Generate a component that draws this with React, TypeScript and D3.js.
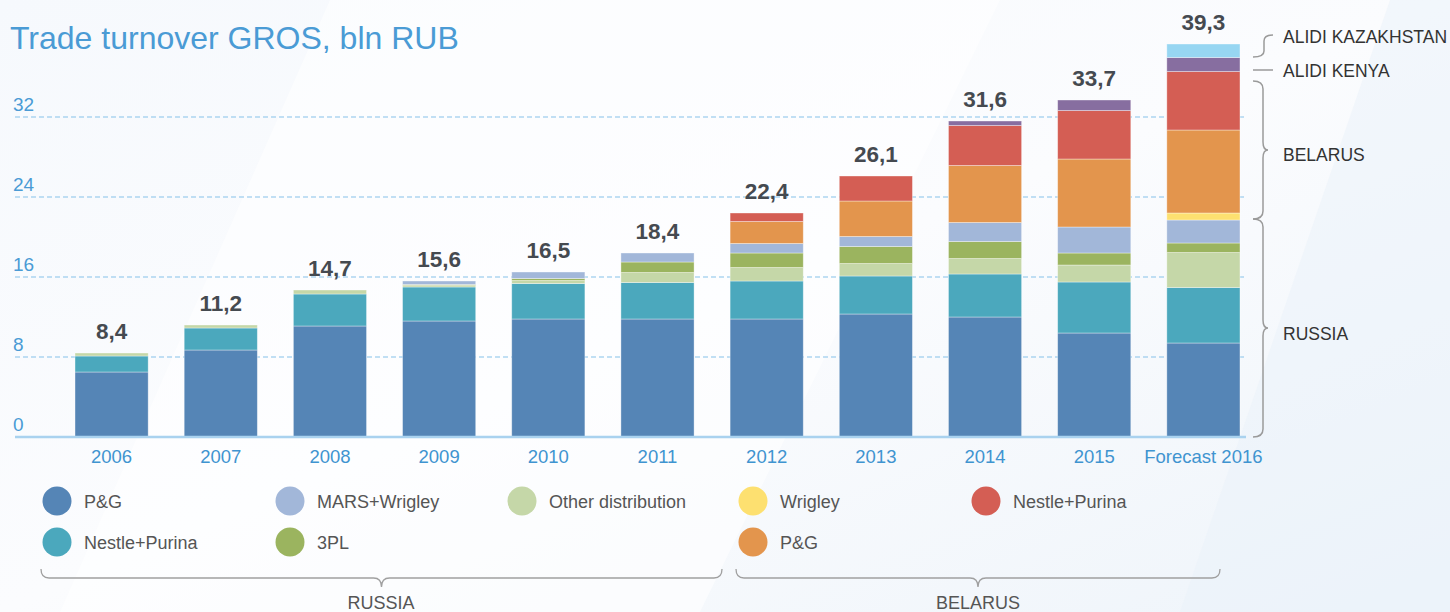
import React from "react";
import * as d3 from "d3";

const years = ["2006", "2007", "2008", "2009", "2010", "2011", "2012", "2013", "2014", "2015", "Forecast 2016"];
const totals = [8.4, 11.2, 14.7, 15.6, 16.5, 18.4, 22.4, 26.1, 31.6, 33.7, 39.3];

const pgRussia = [6.5, 8.7, 11.1, 11.6, 11.8, 11.8, 11.8, 12.3, 12.0, 10.4, 9.4];
const nestleRussia = [1.6, 2.2, 3.2, 3.4, 3.55, 3.65, 3.8, 3.8, 4.3, 5.1, 5.55];
const otherDistribution = [0.3, 0.3, 0.4, 0.15, 0.3, 1.0, 1.35, 1.25, 1.55, 1.7, 3.5];
const threePL = [0, 0, 0, 0.1, 0.2, 1.05, 1.45, 1.7, 1.7, 1.2, 0.95];
const marsWrigley = [0, 0, 0, 0.35, 0.65, 0.9, 0.95, 1.0, 1.9, 2.6, 2.3];
const wrigleyBelarus = [0, 0, 0, 0, 0, 0, 0, 0, 0, 0, 0.7];
const pgBelarus = [0, 0, 0, 0, 0, 0, 2.2, 3.55, 5.7, 6.8, 8.3];
const nestleBelarus = [0, 0, 0, 0, 0, 0, 0.85, 2.5, 4.0, 4.85, 5.85];
const alidiKenya = [0, 0, 0, 0, 0, 0, 0, 0, 0.45, 1.05, 1.4];
const alidiKazakhstan = [0, 0, 0, 0, 0, 0, 0, 0, 0, 0, 1.35];

const yTicks = [0, 8, 16, 24, 32];

const seriesKeys = ["pgRu", "nestleRu", "other", "tpl", "mars", "wrigleyBy", "pgBy", "nestleBy", "kenya", "kazakh"];
const seriesValues = [pgRussia, nestleRussia, otherDistribution, threePL, marsWrigley, wrigleyBelarus, pgBelarus, nestleBelarus, alidiKenya, alidiKazakhstan];
const seriesColors = ["#5585b6", "#4ba8bd", "#c5d7a8", "#9bb45f", "#a2b7d9", "#fde070", "#e3954d", "#d45e54", "#876ea0", "#97d6f2"];

const legendRow1 = [
  { label: "P&G", key: "pgRu" },
  { label: "MARS+Wrigley", key: "mars" },
  { label: "Other distribution", key: "other" },
  { label: "Wrigley", key: "wrigleyBy" },
  { label: "Nestle+Purina", key: "nestleBy" },
];
const legendRow2 = [
  { label: "Nestle+Purina", key: "nestleRu" },
  { label: "3PL", key: "tpl" },
  null,
  { label: "P&G", key: "pgBy" },
];

const rows = years.map((yr, i) => {
  const r: any = { year: yr };
  seriesKeys.forEach((k, j) => (r[k] = seriesValues[j][i]));
  return r;
});

const W = 1450;
const H = 612;

export default function App() {
  const x = d3
    .scaleBand<string>()
    .domain(years)
    .range([57, 1258])
    .paddingInner(0.33)
    .paddingOuter(0.165);
  const y = d3.scaleLinear().domain([0, 40]).range([437, 37]);
  const color = d3.scaleOrdinal<string, string>().domain(seriesKeys).range(seriesColors);
  const stacked = d3.stack<any>().keys(seriesKeys)(rows);

  const sans = "'Liberation Sans', Arial, sans-serif";
  const legX = [57, 290, 522, 753, 986];
  const legY = [501, 542];

  const vBrace = (x0: number, x1: number, x2: number, y1: number, y2: number) => {
    const r = 8;
    const ym = (y1 + y2) / 2;
    return `M${x0},${y1} Q${x1},${y1} ${x1},${y1 + r} L${x1},${ym - r} Q${x1},${ym} ${x2},${ym} Q${x1},${ym} ${x1},${ym + r} L${x1},${y2 - r} Q${x1},${y2} ${x0},${y2}`;
  };
  const hBrace = (xa: number, xb: number, y0: number, y1: number, y2: number) => {
    const r = 8;
    const xm = (xa + xb) / 2;
    return `M${xa},${y0} Q${xa},${y1} ${xa + r},${y1} L${xm - r},${y1} Q${xm},${y1} ${xm},${y2} Q${xm},${y1} ${xm + r},${y1} L${xb - r},${y1} Q${xb},${y1} ${xb},${y0}`;
  };

  return (
    <svg width={W} height={H} style={{ position: "absolute", left: 0, top: 0 }} fontFamily={sans}>
      <defs>
        <linearGradient id="bg" x1="0" y1="0" x2="1" y2="1">
          <stop offset="0" stopColor="#f6f9fd" />
          <stop offset="0.5" stopColor="#fbfcfe" />
          <stop offset="1" stopColor="#eef4fa" />
        </linearGradient>
      </defs>
      <rect x={0} y={0} width={W} height={H} fill="url(#bg)" />
      <polygon points="330,0 1000,0 700,612 60,612" fill="#ffffff" opacity={0.55} />
      <polygon points="1390,0 1450,0 1450,612 1180,612" fill="#e9f1f9" opacity={0.5} />

      {/* title */}
      <text x={10} y={49} fontSize={32} fill="#4a9bd5">Trade turnover GROS, bln RUB</text>

      {/* grid */}
      {yTicks.filter((t) => t > 0).map((t) => (
        <line key={t} x1={15} x2={1246} y1={y(t)} y2={y(t)} stroke="#86c1ea" strokeWidth={1.2} strokeDasharray="5,3" />
      ))}
      {yTicks.map((t) => (
        <text key={"l" + t} x={13} y={y(t) - 6} fontSize={19} fill="#4a9bd5">{t}</text>
      ))}

      {/* bars */}
      {stacked.map((s) => (
        <g key={s.key} fill={color(s.key)}>
          {s.map((d, i) =>
            d[1] - d[0] > 0 ? (
              <rect
                key={i}
                x={x(years[i])}
                width={x.bandwidth()}
                y={y(d[1])}
                height={y(d[0]) - y(d[1])}
                stroke="#ffffff"
                strokeOpacity={0.45}
                strokeWidth={0.8}
              />
            ) : null
          )}
        </g>
      ))}

      {/* axis line */}
      <line x1={15} x2={1246} y1={y(0)} y2={y(0)} stroke="#a9d2ef" strokeWidth={2.5} />

      {/* totals */}
      {years.map((yr, i) => (
        <text key={yr} x={(x(yr) as number) + x.bandwidth() / 2} y={y(totals[i]) - 14} textAnchor="middle" fontSize={22.5} fontWeight="bold" fill="#454a50">
          {d3.format(".1f")(totals[i]).replace(".", ",")}
        </text>
      ))}

      {/* x labels */}
      {years.map((yr) => (
        <text key={"x" + yr} x={(x(yr) as number) + x.bandwidth() / 2} y={463} textAnchor="middle" fontSize={18.5} fill="#3f94d0">
          {yr}
        </text>
      ))}

      {/* right-side braces */}
      <g fill="none" stroke="#9a9a9a" strokeWidth={1.5}>
        <path d="M1273,35 Q1264,35 1264,41 L1264,51 Q1264,57 1253,57" />
        <line x1={1253} x2={1273} y1={70} y2={70} />
        <path d={vBrace(1253, 1263, 1268, 81, 219)} />
        <path d={vBrace(1253, 1263, 1268, 219, 437)} />
      </g>
      <g fontSize={17.5} fill="#333">
        <text x={1283} y={42.5}>ALIDI KAZAKHSTAN</text>
        <text x={1283} y={76.5}>ALIDI KENYA</text>
        <text x={1283} y={161}>BELARUS</text>
        <text x={1283} y={340}>RUSSIA</text>
      </g>

      {/* legend */}
      {[legendRow1, legendRow2].map((row, ri) =>
        row.map((item, ci) =>
          item ? (
            <g key={ri + "-" + ci}>
              <circle cx={legX[ci]} cy={legY[ri]} r={14.5} fill={color(item.key)} />
              <text x={legX[ci] + 27} y={legY[ri] + 6.5} fontSize={18} fill="#555">{item.label}</text>
            </g>
          ) : null
        )
      )}

      {/* bottom braces */}
      <g fill="none" stroke="#a0a0a0" strokeWidth={1.3}>
        <path d={hBrace(41, 722, 569, 578, 587)} />
        <path d={hBrace(736, 1220, 569, 578, 587)} />
      </g>
      <text x={381} y={609} textAnchor="middle" fontSize={18} fill="#555">RUSSIA</text>
      <text x={978} y={609} textAnchor="middle" fontSize={18} fill="#555">BELARUS</text>
    </svg>
  );
}
